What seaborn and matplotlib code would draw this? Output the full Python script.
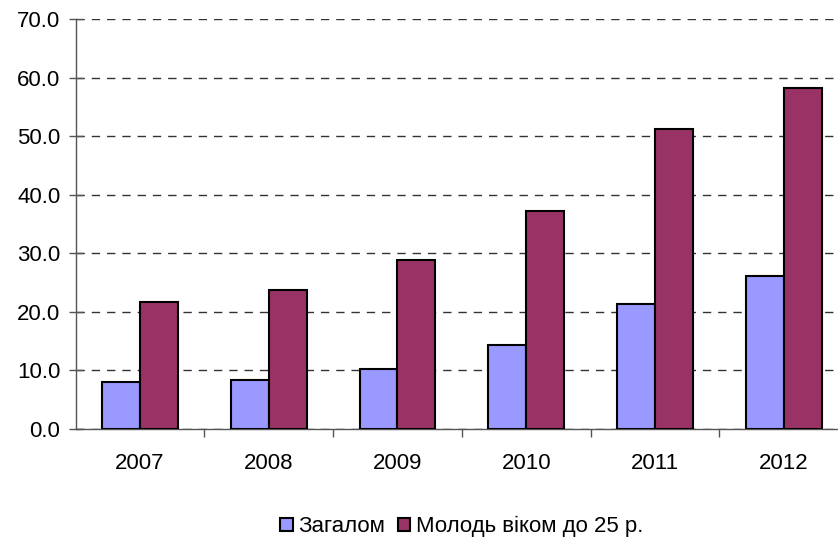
import pandas as pd
import matplotlib
matplotlib.use('Agg')
import matplotlib.pyplot as plt
import seaborn as sns

# дані
years = ['2007', '2008', '2009', '2010', '2011', '2012']
zagalom = [8.0, 8.4, 10.2, 14.4, 21.3, 26.2]
molod = [21.6, 23.7, 28.8, 37.2, 51.3, 58.2]
series_names = ['Загалом', 'Молодь віком до 25 р.']
colors = ['#9999FF', '#993366']

df = pd.DataFrame({
    'year': years * 2,
    'value': zagalom + molod,
    'series': [series_names[0]] * len(years) + [series_names[1]] * len(years),
})

sns.set_style('white')
plt.rcParams['font.family'] = ['Liberation Sans', 'DejaVu Sans']
plt.rcParams['font.size'] = 16
plt.rcParams['text.color'] = 'black'
plt.rcParams['xtick.color'] = 'black'
plt.rcParams['ytick.color'] = 'black'

fig = plt.figure(figsize=(8.38, 5.38), dpi=100)
ax = fig.add_axes([75.7 / 838, 1 - 429 / 538, 772.3 / 838, 410 / 538])

sns.barplot(data=df, x='year', y='value', hue='series', palette=colors,
            saturation=1, width=0.59, gap=0, edgecolor='black', linewidth=1.5,
            ax=ax, zorder=3)

ax.set_xlim(-0.5, 5.5)
ax.set_ylim(0, 70)
ax.set_yticks(range(0, 71, 10))
ax.set_yticklabels([f'{v:.1f}' for v in range(0, 71, 10)], fontsize=16)
ax.set_xticks(range(len(years)))
ax.set_xticklabels(years, fontsize=16)
ax.set_xticks([i + 0.5 for i in range(len(years) - 1)], minor=True)
ax.tick_params(axis='x', which='major', length=0, pad=17, bottom=True)
ax.tick_params(axis='x', which='minor', length=6, direction='out',
               color='#555555', width=1, bottom=True)
ax.tick_params(axis='y', length=10, direction='inout', color='#555555',
               width=1, pad=6, left=True)
ax.set_xlabel('')
ax.set_ylabel('')

ax.yaxis.grid(True, linestyle=(0, (6, 5)), color='#333333', linewidth=1)
ax.set_axisbelow(True)

for s in ['top', 'right']:
    ax.spines[s].set_visible(False)
for s in ['left', 'bottom']:
    ax.spines[s].set_color('#555555')
    ax.spines[s].set_linewidth(1)

handles, labels = ax.get_legend_handles_labels()
ax.legend(handles, labels, loc='upper center', bbox_to_anchor=(0.5, -0.175),
          ncol=2, frameon=False, fontsize=16, handlelength=0.55,
          handleheight=0.55, handletextpad=0.25, columnspacing=0.6,
          borderpad=0.2)

fig.savefig('out.png', dpi=100)
